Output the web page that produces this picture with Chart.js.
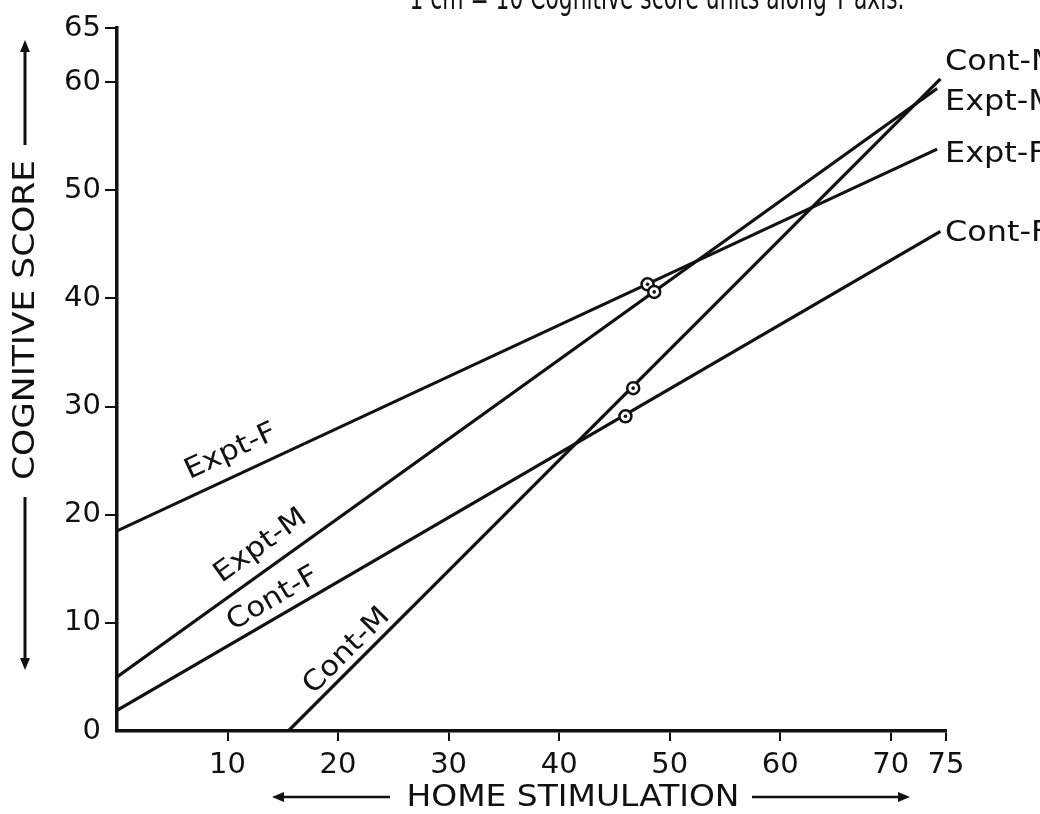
<!DOCTYPE html>
<html>
<head>
<meta charset="utf-8">
<script src="https://cdn.jsdelivr.net/npm/chart.js@4.4.1/dist/chart.umd.min.js"></script>
<style>
html,body{margin:0;padding:0;background:#fff;}
#wrap{width:1040px;height:814px;position:relative;}
</style>
</head>
<body>
<div id="wrap"><canvas id="c" width="1040" height="814"></canvas></div>
<script>
// ---- data ----
const xTicks = [10, 20, 30, 40, 50, 60, 70, 75];
const yTicks = [0, 10, 20, 30, 40, 50, 60, 65];
const seriesNames = ['Expt-F', 'Expt-M', 'Cont-F', 'Cont-M'];
const exptF = [{x: 0, y: 18.5}, {x: 74.2, y: 53.8}];
const exptM = [{x: 0, y: 5.0}, {x: 74.2, y: 59.4}];
const contF = [{x: 0, y: 1.9}, {x: 74.5, y: 46.2}];
const contM = [{x: 15.5, y: 0}, {x: 74.5, y: 60.3}];
const markerX = [48.0, 48.6, 46.0, 46.7];
const markerY = [41.3, 40.6, 29.1, 31.7];
const titleText = '1 cm = 10 Cognitive score units along Y axis.';
const yTitle = 'COGNITIVE SCORE';
const xTitle = 'HOME STIMULATION';

// annotation placement (label anchors in data units)
const endLabelY = [53.3, 58.1, 46.0, 61.8];
const inlineLabelPos = [{x: 10.3, y: 25.8}, {x: 13.0, y: 17.1}, {x: 14.1, y: 12.2}, {x: 20.8, y: 7.4}];

const FONT = '"DejaVu Sans", sans-serif';
const INK = '#111';
const lines = [exptF, exptM, contF, contM];
const markers = markerX.map((x, i) => ({x: x, y: markerY[i]}));

function arrowHead(ctx, x, y, dir) {
  ctx.beginPath();
  const L = 12, W = 5;
  if (dir === 'up') { ctx.moveTo(x, y); ctx.lineTo(x - W, y + L); ctx.lineTo(x + W, y + L); }
  if (dir === 'down') { ctx.moveTo(x, y); ctx.lineTo(x - W, y - L); ctx.lineTo(x + W, y - L); }
  if (dir === 'left') { ctx.moveTo(x, y); ctx.lineTo(x + L, y - W); ctx.lineTo(x + L, y + W); }
  if (dir === 'right') { ctx.moveTo(x, y); ctx.lineTo(x - L, y - W); ctx.lineTo(x - L, y + W); }
  ctx.closePath();
  ctx.fill();
}

// draw text stretched horizontally to a target width (or by a factor)
function stretchText(ctx, text, size, opts) {
  ctx.font = size + 'px ' + FONT;
  const w = ctx.measureText(text).width;
  const sx = opts.width ? opts.width / w : (opts.scale || 1);
  ctx.save();
  ctx.scale(sx, 1);
  ctx.fillText(text, 0, 0);
  ctx.restore();
}

const decor = {
  id: 'decor',
  afterDraw(chart) {
    const ctx = chart.ctx;
    const xs = chart.scales.x, ys = chart.scales.y;
    ctx.save();
    ctx.fillStyle = INK;
    ctx.strokeStyle = INK;

    // top title (cut by the top edge)
    ctx.save();
    ctx.translate(657, 9);
    ctx.textAlign = 'center';
    ctx.textBaseline = 'alphabetic';
    stretchText(ctx, titleText, 34, {width: 495});
    ctx.restore();

    // y title with arrows
    ctx.save();
    ctx.translate(26, 320);
    ctx.rotate(-Math.PI / 2);
    ctx.textAlign = 'center';
    ctx.textBaseline = 'middle';
    stretchText(ctx, yTitle, 30, {width: 320});
    ctx.restore();
    ctx.lineWidth = 3;
    ctx.beginPath();
    ctx.moveTo(25, 145); ctx.lineTo(25, 50);
    ctx.moveTo(25, 497); ctx.lineTo(25, 660);
    ctx.stroke();
    arrowHead(ctx, 25, 40, 'up');
    arrowHead(ctx, 25, 670, 'down');

    // x title with arrows
    ctx.save();
    ctx.translate(573, 798);
    ctx.textAlign = 'center';
    ctx.textBaseline = 'middle';
    stretchText(ctx, xTitle, 30, {width: 333});
    ctx.restore();
    ctx.lineWidth = 2.5;
    ctx.beginPath();
    ctx.moveTo(390, 797); ctx.lineTo(282, 797);
    ctx.moveTo(752, 797); ctx.lineTo(900, 797);
    ctx.stroke();
    arrowHead(ctx, 272, 797, 'left');
    arrowHead(ctx, 910, 797, 'right');

    // end labels (right side, clipped by the canvas edge)
    ctx.textAlign = 'left';
    ctx.textBaseline = 'middle';
    lines.forEach((pts, i) => {
      const ly = ys.getPixelForValue(endLabelY[i]);
      ctx.save();
      ctx.translate(945, ly);
      stretchText(ctx, seriesNames[i], 29, {scale: 1.1});
      ctx.restore();
    });

    // inline rotated labels along each line
    ctx.textAlign = 'center';
    ctx.textBaseline = 'middle';
    lines.forEach((pts, i) => {
      const a = pts[0], b = pts[pts.length - 1];
      const ang = Math.atan2(ys.getPixelForValue(b.y) - ys.getPixelForValue(a.y),
                             xs.getPixelForValue(b.x) - xs.getPixelForValue(a.x));
      const p = inlineLabelPos[i];
      ctx.save();
      ctx.translate(xs.getPixelForValue(p.x), ys.getPixelForValue(p.y));
      ctx.rotate(ang);
      stretchText(ctx, seriesNames[i], 28, {scale: 1.1});
      ctx.restore();
    });

    // marker centre dots
    markers.forEach(m => {
      ctx.beginPath();
      ctx.arc(xs.getPixelForValue(m.x), ys.getPixelForValue(m.y), 1.8, 0, Math.PI * 2);
      ctx.fill();
    });
    ctx.restore();
  }
};

const datasets = lines.map((pts, i) => ({
  label: seriesNames[i],
  data: pts,
  showLine: true,
  borderColor: INK,
  borderWidth: 3.2,
  pointRadius: 0,
  fill: false,
  order: 2
}));
datasets.push({
  label: 'points',
  data: markers,
  showLine: false,
  pointRadius: 6,
  pointBorderWidth: 2.5,
  pointBorderColor: INK,
  pointBackgroundColor: '#fff',
  order: 1
});

new Chart(document.getElementById('c'), {
  type: 'scatter',
  data: {datasets: datasets},
  options: {
    responsive: false,
    animation: false,
    events: [],
    layout: {padding: {top: 28, right: 94, bottom: 0, left: 0}},
    plugins: {legend: {display: false}, tooltip: {enabled: false}, title: {display: false}},
    scales: {
      x: {
        type: 'linear', min: 0, max: 75,
        afterBuildTicks: s => { s.ticks = xTicks.map(v => ({value: v})); },
        afterFit: s => { s.height = 83; },
        border: {display: true, color: INK, width: 3.5},
        grid: {display: true, drawOnChartArea: false, drawTicks: true, tickLength: 10, color: INK, lineWidth: 2},
        ticks: {color: INK, padding: 7, font: {family: FONT, size: 29}, maxRotation: 0, autoSkip: false}
      },
      y: {
        type: 'linear', min: 0, max: 65,
        afterBuildTicks: s => { s.ticks = yTicks.map(v => ({value: v})); },
        afterFit: s => { s.width = 117; },
        border: {display: true, color: INK, width: 3.5},
        grid: {display: true, drawOnChartArea: false, drawTicks: true, tickLength: 12,
               color: c => (c.tick && c.tick.value === 0) ? 'rgba(0,0,0,0)' : INK, lineWidth: 2},
        ticks: {color: INK, padding: 4, font: {family: FONT, size: 29}, autoSkip: false}
      }
    }
  },
  plugins: [decor]
});
</script>
</body>
</html>
